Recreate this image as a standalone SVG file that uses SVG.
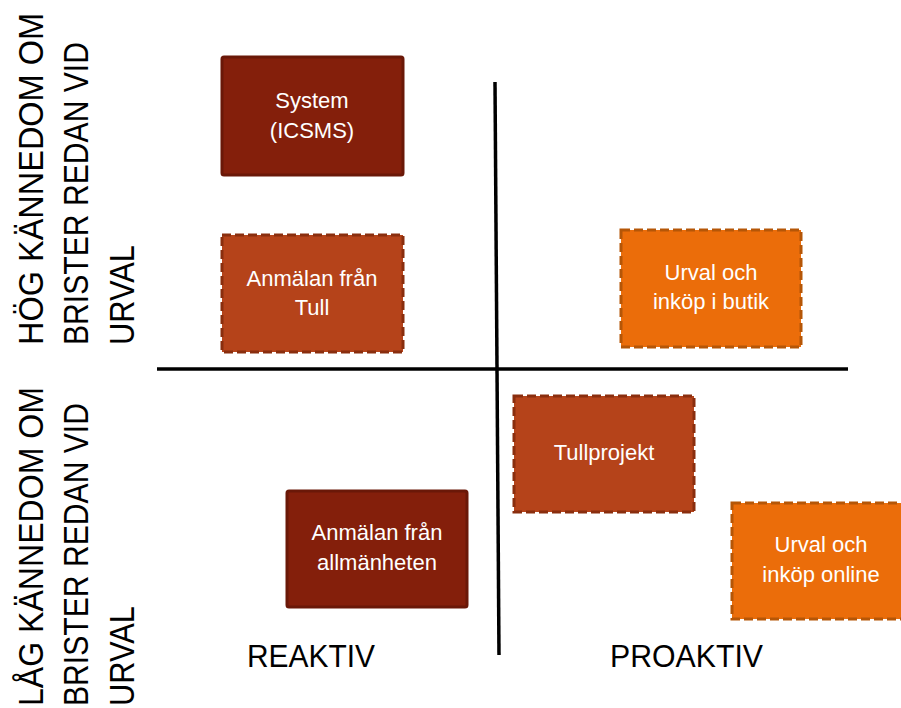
<svg xmlns="http://www.w3.org/2000/svg" width="901" height="708" viewBox="0 0 901 708">
<style>
.dark{fill:#841f0b;stroke:#6a1808;stroke-width:3}
.mid{fill:#b5431a;stroke:#8a2e0e;stroke-width:3;stroke-dasharray:9 4}
.org{fill:#eb6d0a;stroke:#b55607;stroke-width:3;stroke-dasharray:9 4}
.bt{font-family:"Liberation Sans",Arial,sans-serif;font-size:22px;fill:#ffffff;text-anchor:middle}
.ax{font-family:"Liberation Sans",Arial,sans-serif;font-size:32px;fill:#000000}
.side{font-family:"Liberation Sans",Arial,sans-serif;font-size:35px;fill:#000000}
</style>
<rect width="901" height="708" fill="#ffffff"/>
<g id="connectors" stroke="#000000" stroke-width="3.5" fill="none">
<line x1="495" y1="82" x2="499" y2="655"/>
<line x1="157" y1="369" x2="848" y2="369"/>
</g>
<g id="side-high">
<text class="side" transform="translate(43,345) rotate(-90)" textLength="332" lengthAdjust="spacingAndGlyphs">HÖG KÄNNEDOM OM</text>
<text class="side" transform="translate(88,345) rotate(-90)" textLength="303" lengthAdjust="spacingAndGlyphs">BRISTER REDAN VID</text>
<text class="side" transform="translate(134,345) rotate(-90)" textLength="100" lengthAdjust="spacingAndGlyphs">URVAL</text>
</g>
<g id="side-low">
<text class="side" transform="translate(43,706) rotate(-90)" textLength="319" lengthAdjust="spacingAndGlyphs">LÅG KÄNNEDOM OM</text>
<text class="side" transform="translate(88,706) rotate(-90)" textLength="303" lengthAdjust="spacingAndGlyphs">BRISTER REDAN VID</text>
<text class="side" transform="translate(134,706) rotate(-90)" textLength="100" lengthAdjust="spacingAndGlyphs">URVAL</text>
</g>
<g id="reaktiv"><text class="ax" x="247" y="667" textLength="128" lengthAdjust="spacingAndGlyphs">REAKTIV</text></g>
<g id="proaktiv"><text class="ax" x="610" y="667" textLength="153" lengthAdjust="spacingAndGlyphs">PROAKTIV</text></g>
<g id="system">
<rect class="dark" x="222" y="57" width="181" height="118" rx="2"/>
<text class="bt" x="312" y="108">System</text>
<text class="bt" x="312" y="138">(ICSMS)</text>
</g>
<g id="anmalan-tull">
<rect class="mid" x="222" y="235" width="181" height="117"/>
<text class="bt" x="312" y="286">Anmälan från</text>
<text class="bt" x="312" y="315">Tull</text>
</g>
<g id="urval-butik">
<rect class="org" x="621" y="230" width="180" height="117"/>
<text class="bt" x="711" y="280">Urval och</text>
<text class="bt" x="711" y="309">inköp i butik</text>
</g>
<g id="tullprojekt">
<rect class="mid" x="514" y="396" width="180" height="116"/>
<text class="bt" x="604" y="460">Tullprojekt</text>
</g>
<g id="urval-online">
<rect class="org" x="732" y="503" width="180" height="116"/>
<text class="bt" x="821" y="552">Urval och</text>
<text class="bt" x="821" y="582">inköp online</text>
</g>
<g id="anmalan-allmanheten">
<rect class="dark" x="287" y="491" width="180" height="116" rx="2"/>
<text class="bt" x="377" y="540">Anmälan från</text>
<text class="bt" x="377" y="570">allmänheten</text>
</g>
</svg>
